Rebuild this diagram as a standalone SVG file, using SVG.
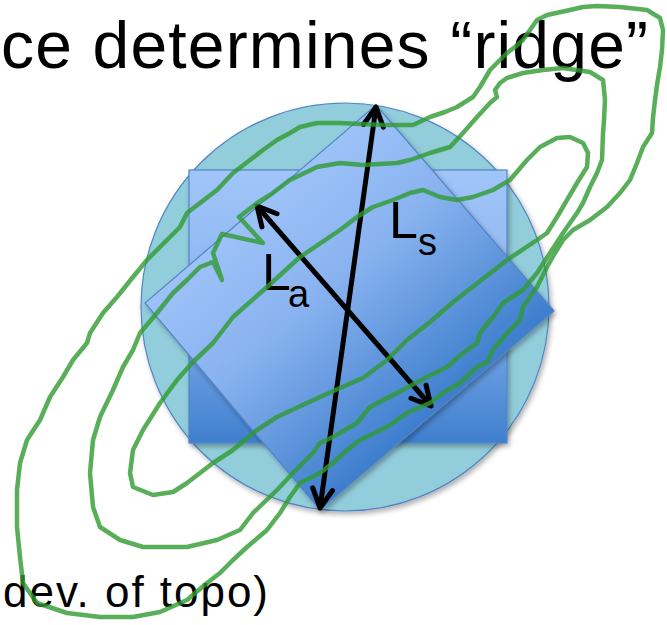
<svg xmlns="http://www.w3.org/2000/svg" width="667" height="625" viewBox="0 0 667 625">
<defs>
<style>
.txt{font-family:"Liberation Sans",Arial,sans-serif;fill:#000}
.sub{font-size:38px}
.shape{stroke:#5285C4;stroke-width:1.2}
.contour{fill:none;stroke:#2F9A30;stroke-opacity:0.8;stroke-width:4.5;stroke-linejoin:round;stroke-linecap:round}
.arrow{fill:none;stroke:#000;stroke-width:5;marker-start:url(#head);marker-end:url(#head)}
</style>
<filter id="shadow" x="-10%" y="-10%" width="130%" height="130%">
<feDropShadow dx="2" dy="3" stdDeviation="2.5" flood-color="#000" flood-opacity="0.3"/>
</filter>
<linearGradient id="gSq" x1="0" y1="0" x2="0" y2="1">
<stop offset="0" stop-color="#A0C5F9"/>
<stop offset="0.45" stop-color="#8DB6F0"/>
<stop offset="1" stop-color="#3F7FCE"/>
</linearGradient>
<linearGradient id="gDi" gradientUnits="userSpaceOnUse" x1="260" y1="204" x2="437" y2="410">
<stop offset="0" stop-color="#9DC2F8"/>
<stop offset="0.4" stop-color="#88B2EF"/>
<stop offset="1" stop-color="#3E7ECD"/>
</linearGradient>
<marker id="head" markerUnits="userSpaceOnUse" orient="auto-start-reverse" refX="0" refY="0" markerWidth="30" markerHeight="30" overflow="visible">
<path d="M-19,-10 L0,0 L-19,10" fill="none" stroke="#000" stroke-width="5" stroke-linejoin="round" stroke-linecap="round"/>
</marker>
</defs>
<rect width="667" height="625" fill="#fff"/>
<text class="txt" x="1" y="68" font-size="66" textLength="647" lengthAdjust="spacing">ce determines “ridge”</text>
<text class="txt" x="3" y="607" font-size="44" textLength="265" lengthAdjust="spacing">dev. of topo)</text>
<g id="circle"><circle cx="345" cy="307" r="204" fill="#92CDDC" class="shape" filter="url(#shadow)"/></g>
<g id="square"><rect x="189" y="170" width="318" height="273" fill="url(#gSq)" class="shape" filter="url(#shadow)"/></g>
<g id="diamond"><polygon points="376,105 554,311 320,510 145,303" fill="url(#gDi)" class="shape" filter="url(#shadow)"/></g>
<g id="connectors">
<line class="arrow" x1="376" y1="107" x2="320" y2="508"/>
<line class="arrow" x1="257" y1="206" x2="431" y2="406"/>
</g>
<g id="labels">
<text class="txt" x="389" y="238" font-size="52">L<tspan class="sub" dy="17">s</tspan></text>
<text class="txt" x="262" y="290" font-size="52">L<tspan class="sub" dx="-3" dy="17">a</tspan></text>
</g>
<g id="contours">
<path class="contour" d="M340,123 L360,124 L385,125 L413,125 L430,117 L445,112 L457,107 L473,97 L480,87 L490,70 L500,60 L507,53 L515,47 L523,40 L530,30 L537,20 L547,15 L570,10 L583,7 L597,6 L620,7 L647,10 L660,18 L663,30 L662,50 L660,67 L657,85 L655,100 L653,118 L652,133 L643,147 L637,163 L630,180 L620,193 L607,207 L590,220 L573,230 L563,240 L555,253 L547,267 L537,287 L523,307 L520,320 L507,333 L493,350 L487,362 L477,367 L460,383 L443,393 L430,403 L407,413 L387,427 L360,440 L347,450 L333,463 L320,473 L300,483 L290,497 L280,513 L267,530 L247,547 L233,560 L220,573 L207,583 L187,600 L160,612 L133,617 L100,617 L67,613 L37,603 L23,583 L20,557 L17,527 L17,490 L20,463 L27,440 L40,420 L50,397 L63,377 L73,360 L87,343 L90,333 L103,313 L117,297 L133,277 L147,260 L167,240 L180,227 L187,213 L200,203 L217,190 L233,173 L250,160 L263,150 L277,140 L290,133 L300,127 L317,123 Z"/>
<path class="contour" d="M340,163 L363,165 L397,163 L410,160 L430,153 L450,147 L463,133 L477,117 L490,103 L497,97 L495,90 L500,83 L507,78 L523,73 L543,70 L563,68 L590,72 L603,80 L605,100 L604,120 L603,133 L602,160 L597,173 L590,187 L583,203 L577,213 L563,233 L550,253 L537,273 L523,290 L503,303 L493,317 L480,333 L477,343 L463,353 L447,367 L427,377 L397,393 L370,407 L357,423 L333,437 L320,443 L313,453 L293,473 L277,490 L253,513 L240,530 L217,540 L187,547 L143,547 L120,540 L100,527 L93,507 L90,473 L93,440 L100,417 L113,390 L123,367 L133,350 L140,333 L157,313 L173,293 L187,280 L200,267 L213,262 L222,280 L213,253 L222,234 L263,243 L239,217 L257,203 L270,195 L290,180 L317,167 Z"/>
<path class="contour" d="M340,230 L357,217 L373,207 L393,200 L410,193 L423,190 L440,197 L457,200 L473,197 L493,190 L510,180 L527,160 L540,147 L557,138 L570,137 L583,143 L588,153 L587,167 L577,183 L567,200 L557,217 L547,233 L537,240 L507,260 L475,285 L452,303 L430,322 L407,340 L387,360 L363,378 L340,388 L307,403 L277,417 L257,430 L233,450 L213,463 L187,483 L173,492 L153,495 L133,487 L130,473 L133,450 L143,430 L160,403 L177,380 L193,362 L213,343 L233,317 L267,287 L300,257 Z"/>
</g>
</svg>
